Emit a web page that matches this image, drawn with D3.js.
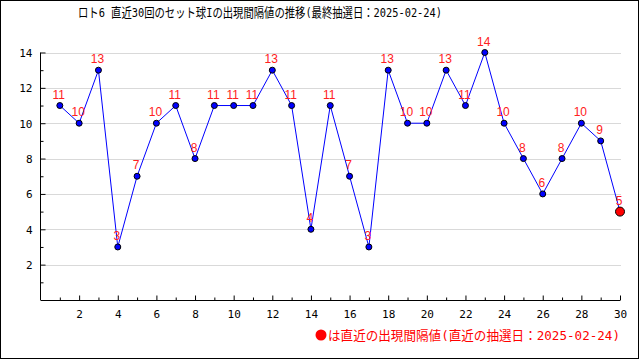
<!DOCTYPE html>
<html lang="ja">
<head>
  <meta charset="UTF-8">
  <title>ロト6 セット球I 出現間隔値</title>
  <script src="https://d3js.org/d3.v7.min.js"></script>
  <style>
    body { margin: 0; background: #fff; }
    svg { display: block; }
  </style>
</head>
<body>
  <svg width="640" height="360"></svg>
  <script>
    // draw numbers 1..30 and the interval values
    var draws = d3.range(1, 31);
    var intervals = [11, 10, 13, 3, 7, 10, 11, 8, 11, 11, 11, 13, 11, 4, 11, 7, 3, 13, 10, 10, 13, 11, 14, 10, 8, 6, 8, 10, 9, 5];
    var xTicks = [2, 4, 6, 8, 10, 12, 14, 16, 18, 20, 22, 24, 26, 28, 30];
    var yTicks = [2, 4, 6, 8, 10, 12, 14];
    var titleText = "ロト6 直近30回のセット球Iの出現間隔値の推移(最終抽選日：2025-02-24)";
    var legendText = "は直近の出現間隔値(直近の抽選日：2025-02-24)";

    var svg = d3.select("svg");
    var monoFont = "'DejaVu Sans Mono', 'Noto Sans CJK JP', monospace";

    // outer frame
    svg.append("rect")
      .attr("x", 0.5).attr("y", 0.5)
      .attr("width", 638).attr("height", 358)
      .attr("fill", "#fff")
      .attr("stroke", "#000");

    // scales
    var x = d3.scaleLinear().domain([0, 30]).range([40.5, 620]);
    var y = d3.scaleLinear().domain([0, 14]).range([300, 52.5]);

    // title
    svg.append("text")
      .attr("x", 78).attr("y", 16.5)
      .attr("textLength", 364)
      .attr("lengthAdjust", "spacingAndGlyphs")
      .style("font-family", monoFont)
      .style("font-size", "13px")
      .attr("fill", "#000")
      .text(titleText);

    // grid lines
    svg.append("g")
      .selectAll("line")
      .data(yTicks)
      .enter().append("line")
      .attr("x1", 45).attr("x2", 621)
      .attr("y1", function(d) { return Math.round(y(d)) + 0.5; })
      .attr("y2", function(d) { return Math.round(y(d)) + 0.5; })
      .attr("stroke", "#d9d9d9");

    // y axis (ticks point into the plot)
    var yAxis = d3.axisRight(y)
      .tickValues(d3.range(1, 15))
      .tickSize(0)
      .tickFormat("");
    var gy = svg.append("g").attr("transform", "translate(40.5,0)").call(yAxis);
    gy.select(".domain").remove();
    gy.append("line")
      .attr("x1", 0).attr("x2", 0)
      .attr("y1", y(14)).attr("y2", y(0))
      .attr("stroke", "#000");
    gy.selectAll(".tick line")
      .attr("x2", function(d) { return d % 2 === 0 ? 5 : 3; })
      .attr("stroke", "#000");
    gy.selectAll(".tick")
      .filter(function(d) { return d % 2 === 0; })
      .append("text")
      .attr("x", -8).attr("dy", "0.35em")
      .attr("text-anchor", "end")
      .attr("fill", "#000")
      .style("font-family", monoFont)
      .style("font-size", "11px")
      .text(function(d) { return d; });

    // x axis
    var xAxis = d3.axisTop(x)
      .tickValues(d3.range(1, 31))
      .tickSize(0)
      .tickFormat("");
    var gx = svg.append("g").attr("transform", "translate(0,300.5)").call(xAxis);
    gx.select(".domain").remove();
    gx.append("line")
      .attr("x1", x(0)).attr("x2", x(30))
      .attr("y1", 0).attr("y2", 0)
      .attr("stroke", "#000");
    gx.selectAll(".tick line")
      .attr("y2", function(d) { return d % 2 === 0 ? -5 : -3; })
      .attr("stroke", "#000");
    gx.selectAll(".tick")
      .filter(function(d) { return xTicks.indexOf(d) >= 0; })
      .append("text")
      .attr("y", 17)
      .attr("text-anchor", "middle")
      .attr("fill", "#000")
      .style("font-family", monoFont)
      .style("font-size", "11px")
      .text(function(d) { return d; });

    // line
    var line = d3.line()
      .x(function(d, i) { return x(draws[i]); })
      .y(function(d) { return y(d); });
    svg.append("path")
      .datum(intervals)
      .attr("d", line)
      .attr("fill", "none")
      .attr("stroke", "#0000ff")
      .attr("stroke-width", 1);

    // points
    var last = intervals.length - 1;
    svg.append("g")
      .selectAll("circle")
      .data(intervals)
      .enter().append("circle")
      .attr("cx", function(d, i) { return x(draws[i]); })
      .attr("cy", function(d) { return y(d); })
      .attr("r", function(d, i) { return i === last ? 4.5 : 3; })
      .attr("fill", function(d, i) { return i === last ? "#ff0000" : "#0000ff"; })
      .attr("stroke", "#000")
      .attr("stroke-width", 1);

    // value labels
    svg.append("g")
      .selectAll("text")
      .data(intervals)
      .enter().append("text")
      .attr("x", function(d, i) { return x(draws[i]) - 1; })
      .attr("y", function(d) { return y(d) - 7; })
      .attr("text-anchor", "middle")
      .attr("fill", "#ff2020")
      .style("font-family", "'Liberation Sans', Arial, sans-serif")
      .style("font-size", "12px")
      .text(function(d) { return d; });

    // legend note: big red dot then the text
    svg.append("circle")
      .attr("cx", 321).attr("cy", 335)
      .attr("r", 5.5)
      .attr("fill", "#ff0000");
    svg.append("text")
      .attr("x", 328).attr("y", 340)
      .attr("textLength", 292)
      .attr("lengthAdjust", "spacingAndGlyphs")
      .attr("fill", "#ff0000")
      .style("font-family", monoFont)
      .style("font-size", "13px")
      .text(legendText);
  </script>
</body>
</html>
